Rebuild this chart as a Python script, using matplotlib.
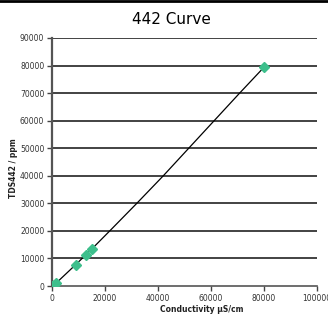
import matplotlib
matplotlib.use("Agg")
from matplotlib import pyplot as plt
from matplotlib.lines import Line2D

# mesures (conductivite, TDS442)
cond = [0, 700, 1500, 9000, 12800, 15000, 80000]
tds = [0, 500, 1000, 7800, 11400, 13400, 79400]

# courbe de tendance
curve_x = [0, 1500, 9000, 15000, 21800, 32000, 42000, 51600, 61200, 70800, 80000]
curve_y = [0, 1000, 7800, 13400, 20000, 30000, 40000, 50000, 60000, 70000, 79400]

x_ticks = [0, 20000, 40000, 60000, 80000, 100000]
y_ticks = [0, 10000, 20000, 30000, 40000, 50000, 60000, 70000, 80000, 90000]

fig = plt.figure(figsize=(3.28, 3.15), dpi=100)
ax = fig.add_axes([52 / 328, 1 - 286 / 315, 265 / 328, 248 / 315])

ax.plot(curve_x, curve_y, color="black", linewidth=0.9, zorder=3)
ax.plot(cond, tds, linestyle="None", marker="D", markersize=5,
        color="#3dbf8c", markeredgecolor="#3dbf8c", zorder=4)

ax.set_xlim(0, 100000)
ax.set_ylim(0, 90000)
ax.set_xticks(x_ticks)
ax.set_yticks(y_ticks)
ax.set_xticklabels([str(v) for v in x_ticks])
ax.set_yticklabels([str(v) for v in y_ticks])

for v in y_ticks[1:]:
    ax.axhline(v, color="#222222", linewidth=1.2, zorder=1)

for side in ["top", "right"]:
    ax.spines[side].set_visible(False)
ax.spines["left"].set_color("#555555")
ax.spines["left"].set_linewidth(1.6)
ax.spines["bottom"].set_color("#555555")
ax.spines["bottom"].set_linewidth(1.2)

ax.tick_params(axis="both", labelsize=5.5, colors="#444444", length=3.5, width=1)
ax.tick_params(axis="x", pad=2)
ax.tick_params(axis="y", pad=2)
for lab in ax.get_xticklabels() + ax.get_yticklabels():
    lab.set_color("#333333")

fig.text(171 / 328, 1 - 20 / 315, "442 Curve", ha="center", va="center", fontsize=11)
fig.text(202 / 328, 1 - 309 / 315, "Conductivity µS/cm", ha="center", va="center",
         fontsize=5.5, fontweight="bold", color="#222222")
fig.text(13 / 328, 1 - 168 / 315, "TDS442 / ppm", ha="center", va="center",
         rotation=90, fontsize=5.5, fontweight="bold", color="#222222")

# trait noir en haut de l'image
fig.add_artist(Line2D([0, 1], [1 - 1 / 315, 1 - 1 / 315], color="black", linewidth=2,
                      transform=fig.transFigure))

fig.savefig("out.png", dpi=100)
plt.close()
